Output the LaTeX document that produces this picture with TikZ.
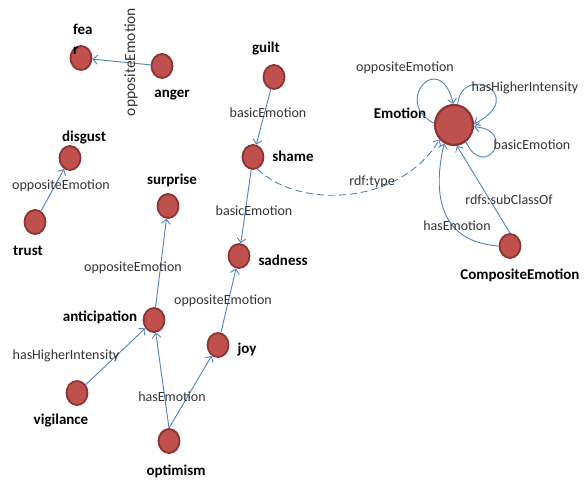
\documentclass[tikz,border=0pt]{standalone}
\usepackage{fontspec}
\setmainfont{Carlito}
\usetikzlibrary{arrows.meta,shapes.geometric}
\definecolor{nodefill}{RGB}{192,80,77}
\definecolor{nodeline}{RGB}{140,52,50}
\definecolor{edgeblue}{RGB}{79,129,189}
\begin{document}
\begin{tikzpicture}[x=1pt,y=-1pt,
  cls/.style={ellipse,draw=nodeline,fill=nodefill,line width=1.8pt,minimum width=21pt,minimum height=24pt,inner sep=0pt},
  bigcls/.style={cls,minimum width=38pt,minimum height=40pt,line width=2.2pt},
  lbl/.style={font=\fontsize{15}{20}\selectfont\bfseries,inner sep=0pt},
  elbl/.style={font=\fontsize{14}{16}\selectfont,text=black!80,inner sep=0pt},
  rel/.style={draw=edgeblue,line width=0.9pt,-{Straight Barb[length=4.5pt,width=9pt]}},
]
\useasboundingbox (0,0) rectangle (586,481);
% class nodes
\node[cls] (fear) at (81,58) {};
\node[cls] (anger) at (162,66) {};
\node[cls] (guilt) at (274,77) {};
\node[cls] (shame) at (253,157) {};
\node[cls] (sadness) at (239,256) {};
\node[cls] (disgust) at (70,158) {};
\node[cls] (trust) at (35,222) {};
\node[cls] (surprise) at (168,206) {};
\node[cls] (anticipation) at (154,320) {};
\node[cls] (joy) at (218,345) {};
\node[cls] (vigilance) at (77,393) {};
\node[cls] (optimism) at (169,441) {};
\node[bigcls] (emotion) at (454,125) {};
\node[cls] (composite) at (510,246) {};
% node labels
\node[lbl,anchor=north west,align=left] (tfear) at (73,24) {fea\\r};
\node[lbl] (tanger) at (172,95) {anger};
\node[lbl] (tguilt) at (266,49) {guilt};
\node[lbl] (tshame) at (293,156) {shame};
\node[lbl] (tsadness) at (283,260) {sadness};
\node[lbl] (tdisgust) at (84,138) {disgust};
\node[lbl] (ttrust) at (28,251) {trust};
\node[lbl] (tsurprise) at (172,180) {surprise};
\node[lbl] (tanticipation) at (100,317) {anticipation};
\node[lbl] (tjoy) at (247,350) {joy};
\node[lbl] (tvigilance) at (61,421) {vigilance};
\node[lbl] (toptimism) at (176,471) {optimism};
\node[lbl] (temotion) at (400,113) {Emotion};
\node[lbl] (tcomposite) at (520,275) {CompositeEmotion};
% edges
\draw[rel] (anger) -- (fear);
\draw[rel] (trust) -- (disgust);
\draw[rel] (guilt) -- (shame);
\draw[rel] (shame) -- (sadness);
\draw[rel] (joy) -- (sadness);
\draw[rel] (anticipation) -- (surprise);
\draw[rel] (vigilance) -- (anticipation);
\draw[rel] (optimism.north) -- (anticipation);
\draw[rel] (optimism.north) -- (joy);
\draw[rel,dash pattern=on 7pt off 4pt] (shame.-70) .. controls (300,210) and (400,205) .. (emotion.-135);
\draw[rel] (composite.north) -- (emotion.-82);
\draw[rel] (composite.west) .. controls (440,242) and (432,195) .. (emotion.-118);
\draw[rel] (emotion.175) .. controls (392,102) and (440,48) .. (emotion.92);
\draw[rel] (emotion.80) .. controls (462,62) and (530,95) .. (emotion.3);
\draw[rel] (emotion.-55) .. controls (485,182) and (518,130) .. (emotion.-5);
% edge labels
\node[elbl,rotate=90,font=\fontsize{15.5}{18}\selectfont] (l1) at (131,62) {oppositeEmotion};
\node[elbl] (l2) at (268,113) {basicEmotion};
\node[elbl] (l3) at (254,211) {basicEmotion};
\node[elbl] (l4) at (61,186) {oppositeEmotion};
\node[elbl] (l5) at (133,268) {oppositeEmotion};
\node[elbl] (l6) at (223,301) {oppositeEmotion};
\node[elbl] (l7) at (66,356) {hasHigherIntensity};
\node[elbl] (l8) at (172,397) {hasEmotion};
\node[elbl] (l9) at (405,68) {oppositeEmotion};
\node[elbl] (l10) at (525,88) {hasHigherIntensity};
\node[elbl] (l11) at (532,145) {basicEmotion};
\node[elbl] (l12) at (372,182) {rdf:type};
\node[elbl] (l13) at (509,200) {rdfs:subClassOf};
\node[elbl] (l14) at (457,226) {hasEmotion};
\end{tikzpicture}
\end{document}
